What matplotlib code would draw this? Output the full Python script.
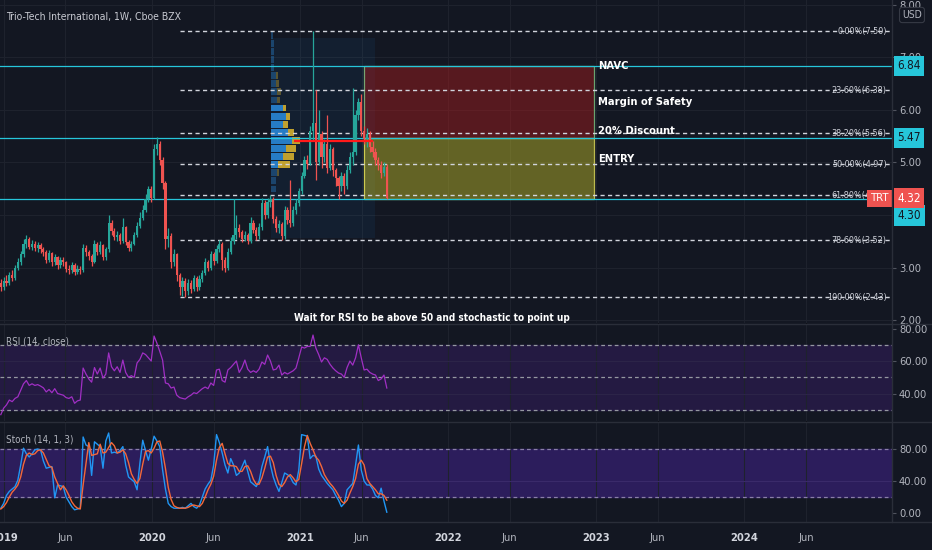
import datetime as dt
import matplotlib
matplotlib.use("Agg")
import matplotlib.pyplot as plt
import matplotlib.dates as mdates
from matplotlib.transforms import blended_transform_factory
from matplotlib.patches import Rectangle
from matplotlib.lines import Line2D

plt.rcParams['font.family'] = ['DejaVu Sans']
plt.rcParams['font.stretch'] = 'condensed'

BG = '#131722'
GRID = '#1e222d'
SEP = '#2a2e39'
TXT = '#b2b5be'
UP = '#26a69a'
DOWN = '#ef5350'
CYAN = '#26c6da'

# ---------------- data ----------------
first_week = dt.date(2018, 12, 24)
first_open = 2.70

closes = [2.62, 2.75, 2.70, 2.85, 2.80, 3.00, 3.10, 3.25, 3.45, 3.55,
          3.40, 3.45, 3.38, 3.42, 3.35, 3.30, 3.15, 3.28, 3.10, 3.20,
          3.05, 3.15, 3.10, 2.98, 2.95, 3.05, 2.92, 2.98, 2.95, 3.38,
          3.30, 3.22, 3.10, 3.45, 3.30, 3.42, 3.20, 3.35, 3.85, 3.70,
          3.58, 3.62, 3.50, 3.78, 3.48, 3.38, 3.45, 3.62, 3.80, 3.95,
          4.10, 4.30, 4.50, 4.32, 5.25, 5.35, 5.05, 4.60, 3.55, 3.60,
          3.10, 3.25, 2.85, 2.62, 2.75, 2.55, 2.70, 2.60, 2.80, 2.62,
          2.78, 2.90, 3.10, 3.00, 3.25, 3.12, 3.35, 3.45, 3.15, 3.00,
          3.30, 3.50, 3.62, 3.75, 3.68, 3.55, 3.62, 3.50, 3.85, 3.72,
          3.60, 3.78, 4.22, 4.00, 4.25, 4.30, 3.92, 3.75, 3.82, 3.60,
          4.10, 3.90, 3.85, 4.10, 4.22, 4.45, 4.75, 5.05, 4.98, 5.60,
          5.75, 5.00, 5.55, 5.10, 5.35, 4.90, 5.25, 4.85, 4.70, 4.55,
          4.75, 4.55, 4.85, 5.10, 5.20, 5.90, 6.15, 5.60, 5.45, 5.55,
          5.30, 5.20, 5.05, 4.95, 4.80, 4.92, 4.32]

highs = [2.78, 2.82, 2.85, 2.92, 2.95, 3.05, 3.18, 3.32, 3.55, 3.62,
         3.58, 3.52, 3.50, 3.48, 3.46, 3.40, 3.34, 3.33, 3.30, 3.26,
         3.22, 3.20, 3.20, 3.12, 3.05, 3.10, 3.08, 3.04, 3.02, 3.45,
         3.42, 3.34, 3.25, 3.52, 3.48, 3.50, 3.45, 3.40, 4.00, 3.90,
         3.75, 3.70, 3.66, 3.94, 3.80, 3.52, 3.50, 3.68, 3.86, 4.05,
         4.20, 4.40, 4.55, 4.55, 5.35, 5.48, 5.40, 5.10, 4.65, 3.75,
         3.65, 3.35, 3.28, 2.90, 2.82, 2.80, 2.78, 2.76, 2.86, 2.84,
         2.85, 2.96, 3.18, 3.15, 3.32, 3.30, 3.42, 3.52, 3.48, 3.20,
         3.38, 3.58, 4.30, 4.00, 3.82, 3.72, 3.70, 3.66, 3.96, 3.90,
         3.78, 3.85, 4.33, 4.28, 4.32, 4.38, 4.34, 3.98, 3.90, 3.86,
         4.18, 4.15, 4.67, 4.18, 4.30, 4.52, 4.82, 5.12, 5.15, 5.70,
         7.50, 6.38, 6.00, 5.60, 5.45, 5.90, 5.35, 5.30, 4.90, 4.75,
         4.82, 4.80, 4.95, 5.20, 6.42, 6.00, 6.22, 6.30, 5.70, 5.65,
         5.60, 5.40, 5.28, 5.10, 5.02, 5.00, 4.98]

lows = [2.55, 2.58, 2.64, 2.66, 2.74, 2.76, 2.95, 3.05, 3.20, 3.38,
        3.35, 3.33, 3.32, 3.30, 3.28, 3.22, 3.08, 3.10, 3.02, 3.05,
        2.98, 3.00, 3.02, 2.92, 2.88, 2.90, 2.86, 2.88, 2.88, 2.92,
        3.22, 3.15, 3.02, 3.08, 3.24, 3.26, 3.14, 3.15, 3.30, 3.62,
        3.52, 3.50, 3.44, 3.46, 3.42, 3.32, 3.32, 3.42, 3.58, 3.75,
        3.90, 4.05, 4.25, 4.25, 4.30, 5.15, 4.95, 4.50, 3.35, 3.40,
        3.00, 3.02, 2.75, 2.48, 2.45, 2.43, 2.48, 2.52, 2.55, 2.55,
        2.58, 2.72, 2.86, 2.94, 2.96, 3.05, 3.08, 3.30, 2.95, 2.92,
        2.96, 3.25, 3.45, 3.55, 3.58, 3.48, 3.50, 3.44, 3.46, 3.65,
        3.52, 3.55, 3.72, 3.92, 3.95, 4.15, 3.85, 3.68, 3.65, 3.52,
        3.55, 3.82, 3.78, 3.80, 4.02, 4.18, 4.40, 4.70, 4.88, 4.95,
        5.40, 4.67, 4.95, 4.90, 5.00, 4.80, 4.85, 4.75, 4.55, 4.30,
        4.45, 4.40, 4.50, 4.80, 4.95, 5.15, 5.80, 5.50, 5.35, 5.30,
        5.20, 5.10, 4.95, 4.85, 4.70, 4.75, 4.30]

rsi = [27, 31, 33, 36, 35, 37, 38, 42, 46, 48,
       45, 46, 45, 45.5, 44.6, 43.5, 41, 42.5, 40.5, 43,
       40, 39.5, 39, 37.5, 37, 38, 34, 35.5, 36, 55.7,
       52, 49, 47, 56, 52, 55.7, 49.5, 52, 65, 56.5,
       54, 56.5, 53, 60.6, 53, 50, 51, 50, 58.8, 61,
       65, 64, 62, 60, 75.4, 71, 66, 60.6, 46.5, 46,
       43.4, 44, 39, 37.5, 37, 36.6, 38, 39, 40.5, 40,
       41.5, 43, 44, 43, 46.5, 45, 54.5, 55, 48, 47,
       54.5, 56, 58, 60, 53, 56, 60.6, 55, 53, 54,
       53, 55, 59.4, 58, 63.7, 60, 54.5, 55, 57.5, 51.4,
       53, 52, 53, 54, 55.7, 62, 68.6, 68, 69, 69,
       76, 68, 64, 59.4, 62, 61, 58, 55.7, 54, 52.6,
       52, 50, 56, 60, 57.5, 62, 70, 62, 54.5, 55,
       53, 52, 51.4, 48, 49, 51.4, 43.4]

stoch_k = [6, 12, 22, 27, 30, 33, 41, 60, 81, 74,
           70, 74, 79, 80, 79, 65, 56, 57, 58, 19,
           35, 34, 33, 20, 14, 8, 4, 5, 6, 95,
           85, 83, 47, 89, 86, 83, 56, 90, 100, 75,
           76, 75, 78, 83, 60, 45, 42, 39, 29, 62,
           91, 78, 66, 80, 96, 90, 83, 54, 30, 12,
           8, 6, 6, 6, 7, 6, 9, 12, 8, 6,
           10, 20, 30, 36, 41, 60, 98, 88, 75, 60,
           50, 68, 60, 47, 50, 58, 66, 52, 39, 36,
           33, 40, 58, 70, 83, 60, 45, 35, 27, 38,
           50, 48, 45, 38, 35, 54, 98, 97, 96, 68,
           72, 71, 55, 47, 42, 37, 33, 29, 22, 16,
           8, 12, 29, 33, 37, 60, 85, 54, 40, 35,
           35, 30, 22, 19, 31, 15, 1]

stoch_d = [5, 8, 13, 20, 26, 30, 35, 45, 61, 72,
           75, 73, 74, 78, 79, 75, 67, 59, 57, 45,
           37, 29, 34, 29, 22, 14, 9, 6, 5, 35,
           62, 88, 72, 73, 74, 86, 75, 76, 82, 88,
           84, 75, 76, 79, 74, 63, 49, 42, 37, 43,
           61, 77, 78, 75, 81, 89, 90, 76, 56, 32,
           17, 9, 7, 6, 6, 6, 7, 9, 10, 9,
           8, 12, 20, 29, 36, 46, 66, 82, 87, 74,
           62, 59, 59, 58, 52, 52, 58, 59, 52, 42,
           36, 36, 44, 56, 70, 71, 63, 47, 36, 33,
           38, 45, 48, 44, 39, 42, 62, 83, 97, 87,
           79, 70, 66, 58, 48, 42, 37, 33, 28, 22,
           15, 12, 16, 25, 33, 43, 61, 66, 60, 43,
           37, 33, 29, 24, 24, 22, 16]

fib_pct = ['0.00%', '23.60%', '38.20%', '50.00%', '61.80%', '78.60%', '100.00%']
fib_price = [7.50, 6.38, 5.56, 4.97, 4.38, 3.52, 2.43]
fib_start = dt.date(2020, 3, 9)

navc = 6.84
discount = 5.47
entry_low = 4.30
last_price = 4.32
box_start = dt.date(2021, 6, 7)
box_end = dt.date(2022, 12, 26)
box_labels = ['NAVC', 'Margin of Safety', '20% Discount', 'ENTRY']
box_label_prices = [6.84, 6.15, 5.60, 5.07]

# visible-range volume profile (bottom row to top row), thousands of shares
vp_low, vp_high = 4.42, 7.50
vp_up = [5, 5, 6, 7, 12, 15, 21, 17, 12, 15, 12, 6, 6, 5, 5, 3, 3, 3, 3, 2]
vp_down = [0, 0, 2, 12, 11, 10, 8, 6, 5, 4, 3, 3, 4, 3, 2, 0, 0, 0, 0, 0]
vp_value_area = (3, 10)
vp_start = dt.date(2020, 10, 21)
vp_end = dt.date(2021, 7, 4)
poc_price = 5.41
poc_end = dt.date(2021, 6, 30)

note = 'Wait for RSI to be above 50 and stochastic to point up'

# ---------------- figure ----------------
W, H = 932, 550
fig = plt.figure(figsize=(W / 100, H / 100), dpi=100, facecolor=BG)
right = 892 / W


def pane(top_px, bot_px):
    return fig.add_axes([0, 1 - bot_px / H, right, (bot_px - top_px) / H], facecolor=BG)


ax = pane(0, 323)
ax_rsi = pane(324, 421)
ax_st = pane(422, 522)

xs = mdates.date2num([first_week + dt.timedelta(weeks=i) for i in range(len(closes))])
opens = [first_open] + closes[:-1]
xlim = (mdates.date2num(dt.date(2018, 12, 22)), mdates.date2num(dt.date(2024, 12, 30)))

for a in (ax, ax_rsi, ax_st):
    a.set_xlim(*xlim)
    for s in a.spines.values():
        s.set_visible(False)
    a.yaxis.tick_right()
    a.tick_params(axis='y', colors=TXT, labelsize=8, length=3, pad=2, color='#50535e')
    a.tick_params(axis='x', length=0)
    a.xaxis.set_major_locator(mdates.YearLocator())
    a.xaxis.set_minor_locator(mdates.MonthLocator(bymonth=6))
    a.grid(True, which='both', axis='x', color=GRID, lw=0.8, zorder=0)
    a.set_axisbelow(True)

# ---- price pane ----
ax.set_ylim(1.943, 8.095)
ax.set_yticks([2, 3, 5, 6, 7, 8])
ax.set_yticklabels(['2.00', '3.00', '5.00', '6.00', '7.00', '8.00'])
for p in range(2, 9):
    ax.axhline(p, color=GRID, lw=0.8, zorder=0)
ax.set_xticklabels([])
ax.set_xticklabels([], minor=True)

# volume profile background and bars
vx0 = mdates.date2num(vp_start)
ax.add_patch(Rectangle((vx0, 3.56), mdates.date2num(vp_end) - vx0, 7.37 - 3.56,
                       fc='#2196f3', alpha=0.07, ec='none', zorder=1))
row_h = (vp_high - vp_low) / len(vp_up)
days_per_k = 2.47  # width scale
for r, (u, d) in enumerate(zip(vp_up, vp_down)):
    alpha = 0.85 if vp_value_area[0] <= r <= vp_value_area[1] else 0.35
    yb = vp_low + r * row_h + row_h * 0.08
    ax.add_patch(Rectangle((vx0, yb), u * days_per_k, row_h * 0.84, fc='#2a8de0',
                           ec='none', alpha=alpha, zorder=2))
    if d:
        ax.add_patch(Rectangle((vx0 + u * days_per_k, yb), d * days_per_k, row_h * 0.84,
                               fc='#e0b82e', ec='none', alpha=alpha, zorder=2))

# boxes
bx0, bx1 = mdates.date2num(box_start), mdates.date2num(box_end)
ax.add_patch(Rectangle((bx0, discount), bx1 - bx0, navc - discount, fc='#b71c1c',
                       alpha=0.42, ec='none', zorder=1))
ax.add_patch(Rectangle((bx0, discount), bx1 - bx0, navc - discount, fc='none',
                       ec='#81c784', lw=0.9, alpha=0.8, zorder=3))
ax.add_patch(Rectangle((bx0, entry_low), bx1 - bx0, discount - entry_low, fc='#c6c12a',
                       alpha=0.45, ec='none', zorder=1))
ax.add_patch(Rectangle((bx0, entry_low), bx1 - bx0, discount - entry_low, fc='none',
                       ec='#e8e45a', lw=0.9, alpha=0.8, zorder=3))

# fib levels
for pct, pr in zip(fib_pct, fib_price):
    ax.hlines(pr, mdates.date2num(fib_start), xlim[1], colors='#d1d4dc', lw=1.0,
              linestyles=(0, (3.0, 2.4)), zorder=3)
    ax.text(0.994, pr, f'{pct}({pr:.2f})', transform=blended_transform_factory(ax.transAxes, ax.transData),
            ha='right', va='center', color='#d1d4dc', fontsize=6.5, zorder=4)

# key horizontal lines
for lvl in (navc, discount, entry_low):
    ax.axhline(lvl, color=CYAN, lw=0.9, zorder=3)

# candles
colors = [UP if c >= o else DOWN for o, c in zip(opens, closes)]
ax.vlines(xs, lows, highs, colors=colors, lw=0.9, zorder=4)
bottoms = [min(o, c) for o, c in zip(opens, closes)]
heights = [max(abs(c - o), 0.02) for o, c in zip(opens, closes)]
ax.bar(xs, heights, bottom=bottoms, width=5.5, color=colors, zorder=5)

# POC line
ax.hlines(poc_price, vx0 + 55, mdates.date2num(poc_end), colors='#ff1a1a', lw=1.6, zorder=6)

for txt, pr in zip(box_labels, box_label_prices):
    ax.text(bx1 + 9, pr, txt, ha='left', va='center', color='white', fontsize=8,
            fontweight='bold', zorder=7)

ax.text(6 / 892, 1 - 17 / 323, 'Trio-Tech International, 1W, Cboe BZX', transform=ax.transAxes,
        ha='left', va='center', color='#c8cad2', fontsize=7.5)

bt = blended_transform_factory(ax.transAxes, ax.transData)
ax.text(0.997, last_price, 'TRT', transform=bt, ha='right', va='center', color='white',
        fontsize=8, zorder=8, bbox=dict(boxstyle='square,pad=0.3', fc=DOWN, ec='none'))
for lbl, pr, fc in [('6.84', navc, CYAN), ('5.47', discount, CYAN),
                    ('4.30', entry_low - 0.31, CYAN), ('4.32', last_price, DOWN)]:
    ax.text(1.006, pr, lbl, transform=bt, ha='left', va='center', clip_on=False,
            color='#131722' if fc == CYAN else 'white', fontsize=8.5, zorder=8,
            bbox=dict(boxstyle='square,pad=0.3', fc=fc, ec='none'))
fig.text(912 / W, 1 - 15 / H, 'USD', ha='center', va='center', color=TXT, fontsize=7.5,
         bbox=dict(boxstyle='round,pad=0.25', fc=BG, ec='#363a45', lw=0.8))

ax.text(432 / 892, 1 - 318 / 323, note, transform=ax.transAxes, ha='center', va='center',
        color='white', fontsize=7.2, fontweight='bold')

# ---- RSI pane ----
ax_rsi.set_ylim(23.1, 82.8)
ax_rsi.set_yticks([40, 60, 80])
ax_rsi.set_yticklabels(['40.00', '60.00', '80.00'])
ax_rsi.axhspan(30, 70, color='#241a42', zorder=0.5)
for lvl in (40, 60):
    ax_rsi.axhline(lvl, color='#2c2448', lw=0.8, zorder=0.6)
for lvl in (70, 50, 30):
    ax_rsi.axhline(lvl, color='#9598a1', lw=0.9, ls=(0, (3.0, 2.4)), zorder=1)
ax_rsi.plot(xs, rsi, color='#a02fc4', lw=0.9, zorder=3)
ax_rsi.text(6 / 892, 0.82, 'RSI (14, close)', transform=ax_rsi.transAxes, ha='left',
            va='center', color=TXT, fontsize=7)
ax_rsi.set_xticklabels([])
ax_rsi.set_xticklabels([], minor=True)

# ---- Stoch pane ----
ax_st.set_ylim(-11.25, 113.75)
ax_st.set_yticks([0, 40, 80])
ax_st.set_yticklabels(['0.00', '40.00', '80.00'])
ax_st.axhspan(20, 80, color='#2c1d5c', zorder=0.5)
ax_st.axhline(40, color='#3a2a6a', lw=0.8, zorder=0.6)
for lvl in (80, 20):
    ax_st.axhline(lvl, color='#8a7fa8', lw=0.9, ls=(0, (3.0, 2.4)), zorder=1)
ax_st.plot(xs, stoch_k, color='#2196f3', lw=1.0, zorder=3)
ax_st.plot(xs, stoch_d, color='#f4683a', lw=1.0, zorder=4)
ax_st.text(6 / 892, 0.83, 'Stoch (14, 1, 3)', transform=ax_st.transAxes, ha='left',
           va='center', color=TXT, fontsize=7)

ax_st.xaxis.set_major_formatter(mdates.DateFormatter('%Y'))
ax_st.xaxis.set_minor_formatter(mdates.DateFormatter('%b'))
ax_st.tick_params(axis='x', which='both', length=0, pad=8, labelsize=8)
for t in ax_st.get_xticklabels():
    t.set_color('#d1d4dc')
    t.set_fontweight('bold')
for t in ax_st.get_xticklabels(minor=True):
    t.set_color(TXT)

# separators
for ypx in (323.5, 421.5, 522):
    fig.add_artist(Line2D([0, 1], [1 - ypx / H] * 2, color=SEP, lw=1.0))
fig.add_artist(Line2D([right, right], [1 - 522 / H, 1], color=SEP, lw=1.0))

fig.savefig('out.png', dpi=100, facecolor=BG)
